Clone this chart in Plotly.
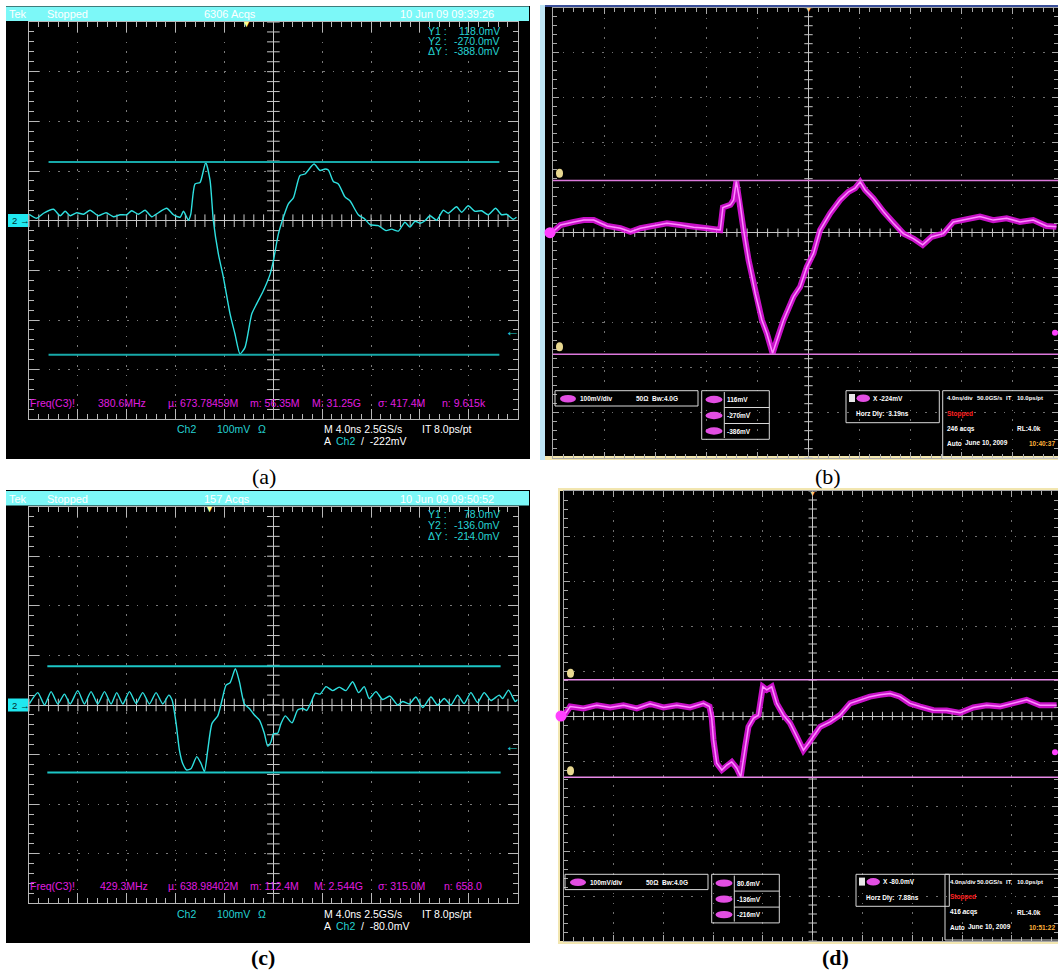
import numpy as np
import plotly.graph_objects as go

W, H = 1058, 974

# ---------------- data: time (ns) and amplitude (mV) ----------------
a_time = [-19.99, -19.36, -18.81, -18.00, -17.45, -17.04, -16.63, -16.09, -15.54, -15.00,
          -14.32, -13.69, -13.09, -12.54, -12.00, -11.59, -11.04, -10.50, -9.95, -9.41,
          -8.73, -8.18, -7.63, -7.36, -6.95, -6.76, -6.41, -6.00, -5.54, -5.18,
          -4.91, -4.50, -4.09, -3.54, -3.14, -2.73, -2.32, -1.77, -1.36, -0.82,
          -0.27, 0.00, 0.41, 0.82, 1.23, 1.64, 2.18, 2.59, 3.33, 3.82,
          4.23, 4.50, 4.91, 5.32, 5.86, 6.27, 6.95, 7.50, 7.91, 8.59,
          9.22, 9.68, 10.23, 10.77, 11.18, 11.59, 12.00, 12.41, 12.82, 13.36,
          13.91, 14.32, 15.00, 15.41, 15.95, 16.50, 17.04, 17.59, 18.19, 18.68,
          19.09, 19.63, 19.90]
a_mv = [13, 5, 15, 23, 10, 19, 10, 16, 13, 21,
        10, 16, 8, 12, 12, 20, 13, 21, 8, 16,
        25, 12, 7, 19, 1, 13, 74, 77, 117, 81,
        0, -67, -114, -188, -228, -268, -255, -188, -167, -141,
        -108, -81, -27, 7, 34, 46, 91, 94, 114, 101,
        104, 102, 79, 74, 48, 40, 12, 3, -8, -10,
        -20, -17, -21, -3, -13, -1, -5, 0, 10, 1,
        21, 15, 28, 17, 30, 19, 20, 12, 25, 12,
        13, 3, 7]

b_time = [-20.0, -19.41, -18.37, -17.59, -16.81, -15.77, -14.72, -13.94, -13.16, -12.12,
          -11.08, -10.03, -8.99, -7.95, -6.91, -6.70, -6.12, -5.86, -5.65, -5.39,
          -5.08, -4.69, -4.17, -3.65, -3.26, -2.81, -2.48, -1.95, -1.17, -0.65,
          -0.13, 0.39, 0.91, 1.69, 2.48, 3.13, 3.65, 4.04, 4.43, 5.08,
          5.86, 6.64, 7.43, 8.21, 8.94, 9.64, 10.55, 11.34, 12.38, 13.42,
          14.46, 15.51, 16.55, 17.59, 18.63, 19.41]
b_mv = [2, 17, 24, 28, 28, 15, 10, 2, 10, 15,
        21, 17, 12, 10, 6, 56, 62, 73, 114, 73,
        6, -61, -135, -194, -224, -268, -239, -194, -142, -120,
        -76, -46, 6, 43, 73, 91, 99, 113, 95, 76,
        47, 21, -2, -13, -27, -9, -2, 24, 30, 36,
        28, 32, 24, 28, 15, 13]

c_time = [-19.96, -19.28, -18.73, -18.19, -17.64, -17.10, -16.63, -16.01, -15.46, -14.92,
          -14.37, -13.82, -13.28, -12.82, -12.32, -11.78, -11.23, -10.69, -10.14, -9.60,
          -9.05, -8.56, -8.29, -7.96, -7.69, -7.42, -7.09, -6.73, -6.27, -5.92,
          -5.64, -5.37, -5.02, -4.55, -4.20, -3.87, -3.54, -3.11, -2.78, -2.37,
          -1.96, -1.55, -1.15, -0.74, -0.46, -0.19, 0.00, 0.35, 0.63, 0.98,
          1.53, 1.99, 2.40, 2.73, 3.08, 3.44, 3.82, 4.31, 4.85, 5.40,
          5.94, 6.49, 6.98, 7.44, 7.85, 8.40, 8.94, 9.54, 10.17, 10.58,
          11.13, 11.67, 12.22, 12.90, 13.44, 13.99, 14.53, 15.08, 15.62, 16.17,
          16.71, 17.26, 17.81, 18.49, 18.76, 19.25, 19.80, 20.0]
c_mv = [3, 25, 0, 27, 2, 22, 2, 29, 2, 27,
        2, 27, 2, 25, 2, 27, 3, 25, 2, 25,
        2, 20, 10, -37, -91, -118, -131, -128, -104, -118,
        -134, -91, -37, -22, 10, 40, 45, 73, 47, 2,
        -7, -20, -30, -57, -83, -74, -58, -57, -37, -22,
        -36, -10, -7, -11, 5, 24, 22, 37, 29, 36,
        29, 47, 25, 37, 13, 27, 11, 18, 0, 7,
        2, 16, -5, 16, 0, 13, 0, 20, 3, 25,
        5, 25, 9, 20, 13, 30, 7, 11]

d_time = [-20.0, -19.48, -18.41, -17.34, -16.27, -15.20, -14.13, -13.06, -11.99, -10.92,
          -9.85, -8.78, -8.29, -8.11, -7.97, -7.71, -7.30, -6.90, -6.50, -6.10,
          -5.78, -5.43, -5.16, -4.76, -4.36, -4.01, -3.69, -3.29, -2.89, -2.35,
          -1.82, -1.28, -0.75, -0.35, 0.05, 0.59, 1.39, 2.19, 3.00, 3.80,
          4.60, 5.40, 6.21, 7.01, 7.81, 8.62, 9.69, 10.76, 11.83, 12.90,
          13.97, 15.04, 16.11, 17.18, 18.25, 19.59]
d_mv = [0, 21, 17, 24, 19, 24, 17, 27, 19, 24,
        19, 28, 21, -5, -53, -105, -120, -109, -102, -116,
        -135, -68, -24, -5, 2, 65, 58, 65, 28, 2,
        -16, -46, -76, -61, -46, -24, -13, 2, 28, 36,
        43, 47, 50, 43, 28, 21, 13, 12, 7, 19,
        24, 21, 28, 36, 24, 24]

# cursor levels (mV) and spans (ns)
a_cursors = [118.0, -270.0]
b_cursors = [116.0, -270.0]
c_cursors = [78.0, -136.0]
d_cursors = [80.6, -136.0]
a_cursor_span = [-18.4, 18.5]
c_cursor_span = [-18.5, 18.6]

# ---------------- helpers ----------------
def px(x):
    return x / W


def py(y):
    return 1 - y / H


shapes = []
annotations = []


def rect(x0, y0, x1, y1, fill=None, line=None, lw=1, layer="below"):
    shapes.append(dict(type="rect", xref="paper", yref="paper",
                       x0=px(x0), x1=px(x1), y0=py(y1), y1=py(y0),
                       fillcolor=fill if fill else "rgba(0,0,0,0)",
                       line=dict(color=line if line else "rgba(0,0,0,0)", width=lw if line else 0),
                       layer=layer))


def ellipse(x0, y0, x1, y1, fill, layer="above"):
    shapes.append(dict(type="circle", xref="paper", yref="paper",
                       x0=px(x0), x1=px(x1), y0=py(y1), y1=py(y0),
                       fillcolor=fill, line=dict(color=fill, width=0), layer=layer))


def hline(x0, x1, y, color, lw=1, layer="above"):
    shapes.append(dict(type="line", xref="paper", yref="paper",
                       x0=px(x0), x1=px(x1), y0=py(y), y1=py(y),
                       line=dict(color=color, width=lw), layer=layer))


def vline(x, y0, y1, color, lw=1, layer="above"):
    shapes.append(dict(type="line", xref="paper", yref="paper",
                       x0=px(x), x1=px(x), y0=py(y0), y1=py(y1),
                       line=dict(color=color, width=lw), layer=layer))


def txt(x, y, s, color="white", size=10.5, anchor="left", family="Liberation Sans", bold=False):
    if bold:
        s = "<b>" + s + "</b>"
    annotations.append(dict(x=px(x), y=py(y), xref="paper", yref="paper", text=s,
                            showarrow=False, xanchor=anchor, yanchor="middle",
                            font=dict(color=color, size=size, family=family), borderpad=0))


# panel geometry in pixels (graticule box)
geo = {
    "a": dict(x0=29, x1=517.7, y0=22, y1=419.4, xr=[-20, 20], yr=[-400, 400], kind="tek"),
    "b": dict(x0=553, x1=1058, y0=7.7, y1=457.7, xr=[-20, 19.53], yr=[-500, 500], kind="dso"),
    "c": dict(x0=29, x1=517.7, y0=506.6, y1=903.4, xr=[-20, 20], yr=[-400, 400], kind="tek"),
    "d": dict(x0=563.7, x1=1058, y0=491, y1=941, xr=[-20, 19.7], yr=[-500, 500], kind="dso"),
}
ids = {"a": "", "b": "2", "c": "3", "d": "4"}

fig = go.Figure()
layout_axes = {}

for key, g in geo.items():
    i = ids[key]
    tek = g["kind"] == "tek"
    gc = "#7a7a7a" if tek else "#707070"
    tc = "#b8b8b8" if tek else "#a8a8a8"
    common = dict(showticklabels=False, showgrid=True, gridcolor=gc,
                  griddash="1.5px,8.3px", gridwidth=1, ticks="inside",
                  ticklen=10 if tek else 6, tickcolor=tc, tickwidth=1,
                  showline=True, linecolor=tc, linewidth=1, mirror="ticks",
                  zeroline=True, zerolinecolor="#c8c8c8", zerolinewidth=1.2,
                  fixedrange=True)
    xa = dict(common, domain=[px(g["x0"]), min(1.0, px(g["x1"]))], range=g["xr"],
              anchor="y" + i, dtick=4, tick0=0,
              minor=dict(dtick=0.8, tick0=0, ticks="inside", ticklen=5 if tek else 4,
                         tickcolor=tc, showgrid=False))
    ya = dict(common, domain=[py(g["y1"]), py(g["y0"])], range=g["yr"],
              anchor="x" + i, dtick=100, tick0=0,
              minor=dict(dtick=20, tick0=0, ticks="inside", ticklen=5 if tek else 4,
                         tickcolor=tc, showgrid=False))
    layout_axes["xaxis" + i] = xa
    layout_axes["yaxis" + i] = ya

    # center-line tick marks
    hx = np.arange(-20, g["xr"][1] + 0.001, 0.8)
    vy = np.arange(g["yr"][0], g["yr"][1] + 0.001, 20)
    fig.add_trace(go.Scatter(x=hx, y=np.zeros_like(hx), mode="markers", xaxis="x" + i, yaxis="y" + i,
                             marker=dict(symbol="line-ns", size=9 if tek else 6,
                                         line=dict(color="#c8c8c8", width=1)),
                             hoverinfo="skip", showlegend=False, cliponaxis=False))
    fig.add_trace(go.Scatter(x=np.zeros_like(vy), y=vy, mode="markers", xaxis="x" + i, yaxis="y" + i,
                             marker=dict(symbol="line-ew", size=9 if tek else 6,
                                         line=dict(color="#c8c8c8", width=1)),
                             hoverinfo="skip", showlegend=False, cliponaxis=False))

# ---------------- backgrounds ----------------
rect(6, 6, 530, 459, fill="black")          # (a)
rect(6, 490, 530, 943, fill="black")        # (c)
rect(540, 5, 1058, 460, fill="#f2e6b0")     # (b) frame
rect(545, 7, 1058, 456, fill="black")
rect(540, 5, 545, 460, fill="#bfe6f6")
hline(545, 1058, 6, "#3a4f9a", 2, layer="below")
rect(558, 488, 1058, 944, fill="#f2e6b0")   # (d) frame
rect(560, 491, 1058, 941, fill="black")

# ---------------- cursors ----------------
for v in a_cursors:
    shapes.append(dict(type="line", xref="x", yref="y", x0=a_cursor_span[0], x1=a_cursor_span[1],
                       y0=v, y1=v, line=dict(color="#17a9a9", width=2), layer="above"))
for v in c_cursors:
    shapes.append(dict(type="line", xref="x3", yref="y3", x0=c_cursor_span[0], x1=c_cursor_span[1],
                       y0=v, y1=v, line=dict(color="#1cc6c6", width=2), layer="above"))
for v in b_cursors:
    shapes.append(dict(type="line", xref="x2", yref="y2", x0=-20, x1=19.53,
                       y0=v, y1=v, line=dict(color="#dc78dc", width=1.5), layer="above"))
for v in d_cursors:
    shapes.append(dict(type="line", xref="x4", yref="y4", x0=-20, x1=19.7,
                       y0=v, y1=v, line=dict(color="#e88ae8", width=1.5), layer="above"))

# ---------------- traces ----------------
fig.add_trace(go.Scatter(x=a_time, y=a_mv, xaxis="x", yaxis="y", mode="lines",
                         line=dict(color="#2ee0e0", width=1.4, shape="spline", smoothing=0.6),
                         showlegend=False, hoverinfo="skip"))
fig.add_trace(go.Scatter(x=c_time, y=c_mv, xaxis="x3", yaxis="y3", mode="lines",
                         line=dict(color="#2ee0e0", width=1.4, shape="spline", smoothing=0.6),
                         showlegend=False, hoverinfo="skip"))
for t, v, i in [(b_time, b_mv, "2"), (d_time, d_mv, "4")]:
    fig.add_trace(go.Scatter(x=t, y=v, xaxis="x" + i, yaxis="y" + i, mode="lines",
                             line=dict(color="rgba(235,20,235,0.85)", width=6),
                             showlegend=False, hoverinfo="skip"))
    fig.add_trace(go.Scatter(x=t, y=v, xaxis="x" + i, yaxis="y" + i, mode="lines",
                             line=dict(color="#ff8cff", width=1.5),
                             showlegend=False, hoverinfo="skip"))

# ---------------- Tek panels text ----------------
tek_info = [
    dict(y0=6.5, acqs="6306 Acqs", date="10 Jun 09 09:39:26",
         cur=["118.0mV", "-270.0mV", "-388.0mV"], cury=[31.5, 41.5, 51.5],
         stats=["Freq(C3)!", "380.6MHz", "µ: 673.78459M", "m: 56.35M", "M: 31.25G", "σ: 417.4M", "n: 9.615k"],
         statx=[29, 97, 167, 249, 311, 377, 441], staty=402.5, r2=429, r3=441.5,
         trig="-222mV", gnd=220.5, arrow=330, mark=246.7, marky=24),
    dict(y0=491, acqs="157 Acqs", date="10 Jun 09 09:50:52",
         cur=["78.0mV", "-136.0mV", "-214.0mV"], cury=[514, 525, 536],
         stats=["Freq(C3)!", "429.3MHz", "µ: 638.98402M", "m: 112.4M", "M: 2.544G", "σ: 315.0M", "n: 658.0"],
         statx=[29, 99, 167, 249, 313, 377, 443], staty=886, r2=914, r3=925.7,
         trig="-80.0mV", gnd=705, arrow=745, mark=209, marky=509),
]
CY = "#25d2d2"
MG = "#e01ce0"
for ti in tek_info:
    y0 = ti["y0"]
    rect(6, y0, 529, y0 + 14.5, fill="#7cf8f8", layer="above")
    ym = y0 + 7.5
    txt(8, ym, "Tek", "white", 11)
    txt(46, ym, "Stopped", "white", 11)
    txt(203, ym, ti["acqs"], "white", 11)
    txt(399, ym, ti["date"], "white", 11)
    for lab, val, yy in zip(["Y1 :", "Y2 :", "ΔY :"], ti["cur"], ti["cury"]):
        txt(427, yy, lab, CY, 10.5)
        txt(501, yy, val, CY, 10.5, anchor="right")
    for s, xx in zip(ti["stats"], ti["statx"]):
        txt(xx, ti["staty"], s, MG, 10.5)
    txt(176, ti["r2"], "Ch2", CY, 10.5)
    txt(216, ti["r2"], "100mV", CY, 10.5)
    txt(257, ti["r2"], "Ω", CY, 10.5)
    txt(323, ti["r2"], "M 4.0ns 2.5GS/s", "white", 10.5)
    txt(421, ti["r2"], "IT 8.0ps/pt", "white", 10.5)
    txt(323, ti["r3"], "A", "white", 10.5)
    txt(335, ti["r3"], "Ch2", CY, 10.5)
    txt(360, ti["r3"], "/  " + ti["trig"], "white", 10.5)
    # ground marker
    rect(8, ti["gnd"] - 6.5, 28, ti["gnd"] + 6.5, fill="#20e8f0", layer="above")
    txt(11, ti["gnd"], "2 →", "#003030", 9.5)
    txt(512, ti["arrow"], "←", CY, 15, anchor="center", bold=True)
    txt(ti["mark"], ti["marky"], "▼", "#ffff90", 9, anchor="center")

# ---------------- DSO panels text ----------------
dso_info = [
    dict(dx=0, dy=0, vals=["116mV", "-270mV", "-386mV"], trig="-224mV", dly="3.19ns",
         acqs="246 acqs", date="June 10, 2009", time="10:40:37",
         gnd=(550, 232.7), c1=173.3, c2=346.7, right=332.7, top=10, topx=808, b4y1=458),
    dict(dx=10, dy=483.6, vals=["80.6mV", "-136mV", "-216mV"], trig="-80.0mV", dly="7.88ns",
         acqs="416 acqs", date="June 10, 2009", time="10:51:22",
         gnd=(561, 716), c1=673.3, c2=770.7, right=752.3, top=493, topx=812.7, b4y1=940),
]
BOX = "#d8d8d8"
FS = 6.5
for di in dso_info:
    dx, dy = di["dx"], di["dy"]
    # box 1
    rect(555 + dx, 390.7 + dy, 698 + dx, 406 + dy, line=BOX, lw=1, layer="above")
    ellipse(560 + dx, 395 + dy, 576 + dx, 402.5 + dy, "#e24ee2")
    txt(579 + dx, 398.5 + dy, "100mV/div", "white", FS, bold=True)
    txt(635 + dx, 398.5 + dy, "50Ω", "white", FS, bold=True)
    txt(651 + dx, 398.5 + dy, "Bw:4.0G", "white", FS, bold=True)
    # box 2
    rect(701.7 + dx, 390.7 + dy, 769.3 + dx, 439.3 + dy, line=BOX, lw=1, layer="above")
    vline(724.3 + dx, 392 + dy, 438 + dy, BOX)
    hline(724.3 + dx, 769.3 + dx, 407.5 + dy, BOX)
    hline(724.3 + dx, 769.3 + dx, 423.5 + dy, BOX)
    for yy, val in zip([399.5, 415.5, 431], di["vals"]):
        ellipse(705.5 + dx, yy - 3.7 + dy, 722.5 + dx, yy + 3.7 + dy, "#e24ee2")
        txt(725.5 + dx, yy + dy, val, "white", FS, bold=True)
    # box 3
    rect(846 + dx, 390.7 + dy, 939.3 + dx, 422.7 + dy, line=BOX, lw=1, layer="above")
    rect(849 + dx, 394 + dy, 855 + dx, 402 + dy, fill="#e8e8e8", layer="above")
    ellipse(856.5 + dx, 394.5 + dy, 870 + dx, 402 + dy, "#e24ee2")
    txt(871.5 + dx, 398.3 + dy, "X " + di["trig"], "white", FS, bold=True)
    txt(855 + dx, 414.3 + dy, "Horz Dly:  " + di["dly"], "white", FS, bold=True)
    # box 4
    x4 = 942.7 + (2.3 if dx else 0)
    rect(x4, 390.7 + dy, 1062, di["b4y1"], line=BOX, lw=1, layer="above")
    xb = x4 + 3.5
    txt(xb, 398.3 + dy, "4.0ns/div", "white", 6, bold=True)
    txt(976, 398.3 + dy, "50.0GS/s", "white", 6, bold=True)
    txt(1005, 398.3 + dy, "IT", "white", 6, bold=True)
    txt(1016, 398.3 + dy, "10.0ps/pt", "white", 6, bold=True)
    txt(xb, 413.5 + dy, "Stopped", "#ff2020", FS, bold=True)
    txt(xb, 428.5 + dy, di["acqs"], "white", FS, bold=True)
    txt(1016, 428.5 + dy, "RL:4.0k", "white", FS, bold=True)
    txt(xb, 443.5 + dy, "Auto", "white", FS, bold=True)
    txt(xb + 18, 443.5 + dy, di["date"], "white", FS, bold=True)
    txt(1028, 443.5 + dy, di["time"], "#ffb23a", FS, bold=True)
    # markers
    gx, gy = di["gnd"]
    ellipse(gx - 5.5, gy - 5.5, gx + 5.5, gy + 5.5, "#ff40ff")
    for cy in [di["c1"], di["c2"]]:
        ellipse(gx + 6, cy - 4.5, gx + 13, cy + 4.5, "#e8d890")
    ellipse(1052, di["right"] - 3, 1058, di["right"] + 3, "#ff40ff")
    txt(di["topx"], di["top"], "▼", "#ffcc80", 7, anchor="center")

# ---------------- figure labels ----------------
txt(264, 476.5, "(a)", "black", 22, anchor="center", family="Liberation Serif")
txt(828, 476.5, "(b)", "black", 22, anchor="center", family="Liberation Serif")
txt(263, 957, "(c)", "black", 22, anchor="center", family="Liberation Serif", bold=True)
txt(835, 957, "(d)", "black", 22, anchor="center", family="Liberation Serif", bold=True)

fig.update_layout(width=W, height=H, margin=dict(l=0, r=0, t=0, b=0),
                  paper_bgcolor="white", plot_bgcolor="black",
                  showlegend=False, shapes=shapes, annotations=annotations,
                  **layout_axes)

fig.write_html("out.html", config={"displayModeBar": False},
               post_script="document.body.style.margin='0';document.body.style.overflow='hidden';")
